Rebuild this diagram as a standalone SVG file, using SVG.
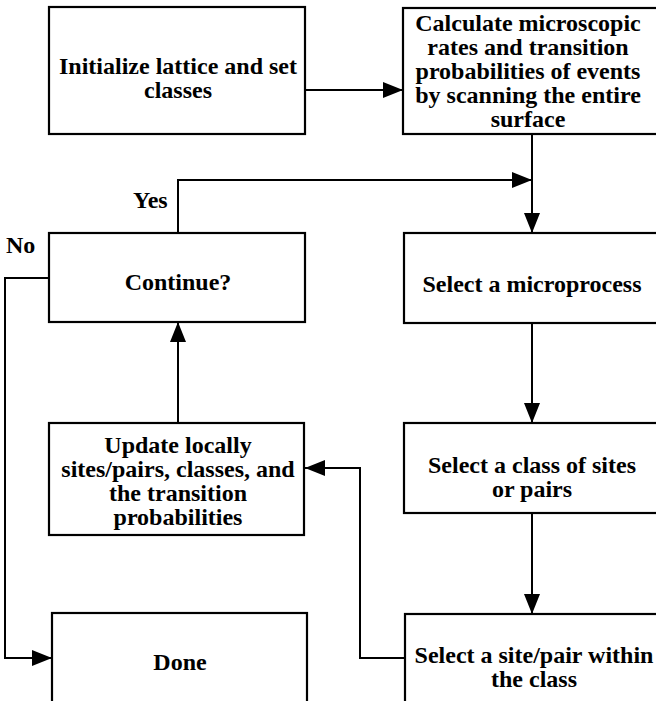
<svg xmlns="http://www.w3.org/2000/svg" width="656" height="701" viewBox="0 0 656 701">
<style>
.box{fill:#fff;stroke:#000;stroke-width:2.2}
.t{font-family:'Liberation Serif','DejaVu Serif','Times New Roman',serif;font-weight:bold;font-size:24px;fill:#000;text-anchor:middle}
.lbl{font-family:'Liberation Serif','DejaVu Serif','Times New Roman',serif;font-weight:bold;font-size:24px;fill:#000}
.c{fill:none;stroke:#000;stroke-width:2}
</style>
<defs>
<marker id="ah" markerUnits="userSpaceOnUse" markerWidth="20" markerHeight="16" refX="20" refY="8" orient="auto">
<path d="M0,0 L20,8 L0,16 z" fill="#000"/>
</marker>
</defs>
<rect width="656" height="701" fill="#fff"/>
<g id="connectors">
<line class="c" x1="305" y1="90" x2="403" y2="90" marker-end="url(#ah)"/>
<line class="c" x1="532" y1="134" x2="532" y2="233" marker-end="url(#ah)"/>
<polyline class="c" points="178,233 178,180 532,180" marker-end="url(#ah)"/>
<polyline class="c" points="49,278 5,278 5,658 52,658" marker-end="url(#ah)"/>
<line class="c" x1="532" y1="323" x2="532" y2="423" marker-end="url(#ah)"/>
<line class="c" x1="532" y1="513" x2="532" y2="614" marker-end="url(#ah)"/>
<polyline class="c" points="405,658 360,658 360,468 305,468" marker-end="url(#ah)"/>
<line class="c" x1="178" y1="423" x2="178" y2="322" marker-end="url(#ah)"/>
<text class="lbl" x="133" y="208">Yes</text>
<text class="lbl" x="6" y="253">No</text>
</g>
<g id="init">
<rect class="box" x="49" y="7" width="256" height="127"/>
<text class="t" x="178" y="74">Initialize lattice and set</text>
<text class="t" x="178" y="98">classes</text>
</g>
<g id="calculate">
<rect class="box" x="403" y="8" width="260" height="126"/>
<text class="t" x="528" y="31">Calculate microscopic</text>
<text class="t" x="528" y="55">rates and transition</text>
<text class="t" x="528" y="79">probabilities of events</text>
<text class="t" x="528" y="103">by scanning the entire</text>
<text class="t" x="528" y="127">surface</text>
</g>
<g id="continue">
<rect class="box" x="49" y="233" width="256" height="89"/>
<text class="t" x="178" y="290">Continue?</text>
</g>
<g id="microprocess">
<rect class="box" x="404" y="233" width="260" height="90"/>
<text class="t" x="532" y="292">Select a microprocess</text>
</g>
<g id="update">
<rect class="box" x="49" y="423" width="255" height="112"/>
<text class="t" x="178" y="453">Update locally</text>
<text class="t" x="178" y="477">sites/pairs, classes, and</text>
<text class="t" x="178" y="501">the transition</text>
<text class="t" x="178" y="525">probabilities</text>
</g>
<g id="selectclass">
<rect class="box" x="404" y="423" width="260" height="90"/>
<text class="t" x="532" y="473">Select a class of sites</text>
<text class="t" x="532" y="497">or pairs</text>
</g>
<g id="done">
<rect class="box" x="52" y="613" width="255" height="100"/>
<text class="t" x="180" y="670">Done</text>
</g>
<g id="selectsite">
<rect class="box" x="405" y="614" width="260" height="100"/>
<text class="t" x="534" y="663">Select a site/pair within</text>
<text class="t" x="534" y="687">the class</text>
</g>
</svg>
